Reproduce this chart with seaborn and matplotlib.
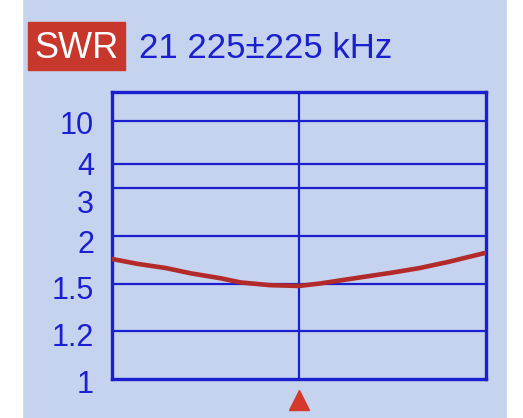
import numpy as np
import pandas as pd
import matplotlib
matplotlib.use('Agg')
import matplotlib.pyplot as plt
import matplotlib.patches as mpatches
import matplotlib.transforms as mtransforms
import seaborn as sns

# Sweep data
freq_khz = [21000, 21030, 21065, 21095, 21130, 21155, 21190, 21225,
            21250, 21285, 21335, 21370, 21405, 21450]
swr = [1.76, 1.71, 1.665, 1.61, 1.56, 1.515, 1.492, 1.487,
       1.504, 1.55, 1.615, 1.665, 1.73, 1.825]

# Non-linear SWR axis of the device: tick values and where they sit (0..1)
swr_ticks = [1, 1.2, 1.5, 2, 3, 4, 10]
tick_labels = ['1', '1.2', '1.5', '2', '3', '4', '10']
tick_pos = [0.0, 0.169, 0.332, 0.499, 0.667, 0.749, 0.899]
# the screen prints labels a bit off their lines (pixels, down)
label_shift = [2, 4, 4, 6, 14, -1, 1]
swr_top = 30
center_khz = 21225
span_khz = 225

scale_vals = np.array(swr_ticks + [swr_top], dtype=float)
scale_pos = np.array(tick_pos + [1.0])

def fwd(v):
    return np.interp(v, scale_vals, scale_pos)

def inv(p):
    return np.interp(p, scale_pos, scale_vals)

blue = '#1a1fd0'
red_box = '#c8372c'
red_line = '#b32a2a'
screen = '#c6d3ee'

sns.set_theme(style='white')
plt.rcParams['font.family'] = ['Liberation Sans', 'DejaVu Sans']

fig = plt.figure(figsize=(5.23, 4.18), dpi=100, facecolor=screen)
# white edges of the photo
fig.patches.append(mpatches.Rectangle((0, 0), 22 / 523, 1, transform=fig.transFigure,
                                      color='white', zorder=0))
fig.patches.append(mpatches.Rectangle((507 / 523, 0), 16 / 523, 1, transform=fig.transFigure,
                                      color='white', zorder=0))

ax = fig.add_axes([112 / 523, 38.7 / 418, 374 / 523, 287.3 / 418])
ax.set_facecolor(screen)
ax.set_yscale('function', functions=(fwd, inv))

df = pd.DataFrame({'freq': freq_khz, 'swr': swr})
sns.lineplot(data=df, x='freq', y='swr', color=red_line, linewidth=3.3, ax=ax, zorder=3)

ax.set_xlim(center_khz - span_khz, center_khz + span_khz)
ax.set_ylim(1, swr_top)

for v in swr_ticks[1:]:
    ax.axhline(v, color=blue, linewidth=1.6, zorder=2)
ax.axvline(center_khz, color=blue, linewidth=1.6, zorder=2)

ax.set_yticks(swr_ticks)
ax.set_yticklabels(tick_labels)
ax.yaxis.set_minor_locator(matplotlib.ticker.NullLocator())
ax.tick_params(axis='y', length=0, pad=13, labelsize=22, labelcolor=blue)
for lab, dy in zip(ax.get_yticklabels(), label_shift):
    lab.set_transform(lab.get_transform() +
                      mtransforms.ScaledTranslation(0, -dy / 100, fig.dpi_scale_trans))
ax.set_xticks([])
ax.set_xlabel('')
ax.set_ylabel('')
for s in ax.spines.values():
    s.set_color(blue)
    s.set_linewidth(2.4)

# marker under the centre frequency
ax.plot([center_khz], [-0.072], marker='^', markersize=14, color='#d4392b',
        transform=ax.get_xaxis_transform(), clip_on=False, linestyle='none')

# header
fig.patches.append(mpatches.Rectangle((28 / 523, 1 - 70 / 418), 97 / 523, 48 / 418,
                                      transform=fig.transFigure, color=red_box, zorder=1))
fig.text(77 / 523, 1 - 49 / 418, 'SWR', color='white', fontsize=26, ha='center', va='center')
fig.text(139 / 523, 1 - 49 / 418, '21 225\u00b1225 kHz', color=blue, fontsize=25,
         ha='left', va='center')

fig.savefig('out.png', dpi=100, facecolor=fig.get_facecolor())
